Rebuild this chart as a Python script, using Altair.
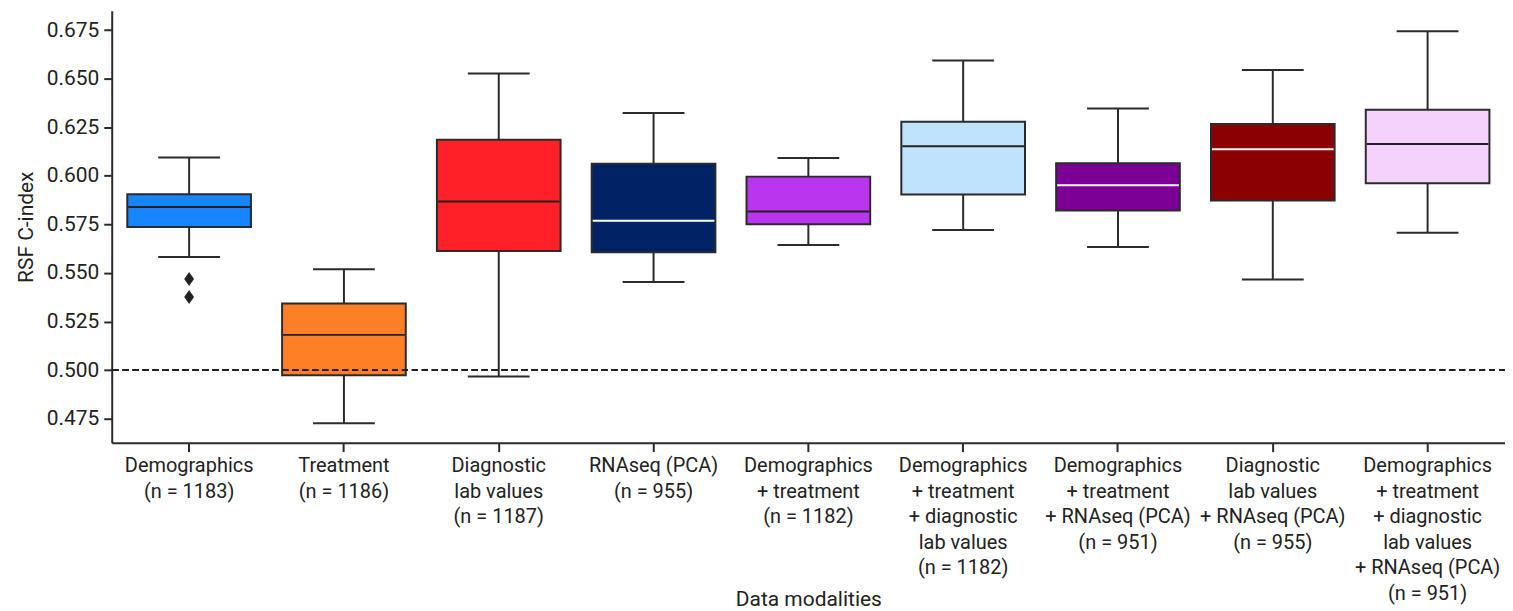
import altair as alt
import pandas as pd

categories = [
    "Demographics|(n = 1183)",
    "Treatment|(n = 1186)",
    "Diagnostic|lab values|(n = 1187)",
    "RNAseq (PCA)|(n = 955)",
    "Demographics|+ treatment|(n = 1182)",
    "Demographics|+ treatment|+ diagnostic|lab values|(n = 1182)",
    "Demographics|+ treatment|+ RNAseq (PCA)|(n = 951)",
    "Diagnostic|lab values|+ RNAseq (PCA)|(n = 955)",
    "Demographics|+ treatment|+ diagnostic|lab values|+ RNAseq (PCA)|(n = 951)",
]
whisker_low = [0.5582, 0.4726, 0.4967, 0.5453, 0.5644, 0.5721, 0.5633, 0.5466, 0.5707]
q1 = [0.5736, 0.4973, 0.5613, 0.5606, 0.5751, 0.5904, 0.5822, 0.5873, 0.5962]
median = [0.5839, 0.5181, 0.5868, 0.5769, 0.5817, 0.6152, 0.5952, 0.6137, 0.6164]
q3 = [0.5905, 0.5342, 0.6186, 0.6062, 0.5996, 0.6279, 0.6065, 0.6267, 0.6341]
whisker_high = [0.6094, 0.5519, 0.6527, 0.6324, 0.6092, 0.6594, 0.6347, 0.6545, 0.6745]
box_colors = ["#1685FF", "#FF7F27", "#FF2028", "#022266", "#B935EE",
              "#BFE3FD", "#7B0095", "#8B0000", "#F3D3FC"]
median_colors = ["#222222", "#222222", "#222222", "#FFFFFF", "#222222",
                 "#222222", "#FFFFFF", "#FFFFFF", "#222222"]
outlier_cat = [categories[0], categories[0]]
outlier_val = [0.5469, 0.5376]
y_ticks = [0.475, 0.500, 0.525, 0.550, 0.575, 0.600, 0.625, 0.650, 0.675]

df = pd.DataFrame({
    "cat": categories, "low": whisker_low, "q1": q1, "median": median,
    "q3": q3, "high": whisker_high, "medcolor": median_colors,
})
out_df = pd.DataFrame({"cat": outlier_cat, "val": outlier_val})

FONT = "Roboto"
DARK = "#2b2b2b"

x_enc = alt.X(
    "cat:N", sort=categories,
    scale=alt.Scale(domain=categories, paddingInner=0, paddingOuter=0),
    axis=alt.Axis(
        title="Data modalities", labelExpr="split(datum.label, '|')",
        labelAngle=0, labelFontSize=20, labelLineHeight=25.6, labelPadding=4,
        labelColor="#222", labelFont=FONT, tickSize=9, tickWidth=2, tickColor=DARK,
        domainColor=DARK, domainWidth=2, titleFontSize=21, titleFontWeight="normal",
        titleFont=FONT, titleColor="#222", titleY=157, titleBaseline="middle",
        labelBaseline="top",
    ),
)
y_scale = alt.Scale(domain=[0.4626, 0.685], nice=False, zero=False)
y_axis = alt.Axis(
    title="RSF C-index", values=y_ticks, format=".3f", labelFontSize=21,
    labelColor="#222", labelFont=FONT, tickSize=8, tickWidth=2, tickColor=DARK,
    domainColor=DARK, domainWidth=2, titleFontSize=21, titleFontWeight="normal",
    titleFont=FONT, titleColor="#222", titlePadding=10, grid=False, labelPadding=5,
)

base = alt.Chart(df)
whisk = base.mark_rule(color=DARK, strokeWidth=2).encode(
    x=x_enc, y=alt.Y("low:Q", scale=y_scale, axis=y_axis), y2="high:Q")
cap_low = base.mark_tick(size=62, thickness=2, color=DARK, opacity=1).encode(
    x=alt.X("cat:N", sort=categories), y="low:Q")
cap_high = base.mark_tick(size=62, thickness=2, color=DARK, opacity=1).encode(
    x=alt.X("cat:N", sort=categories), y="high:Q")
box = base.mark_bar(width=124, stroke=DARK, strokeWidth=2, opacity=1).encode(
    x=alt.X("cat:N", sort=categories), y="q1:Q", y2="q3:Q",
    color=alt.Color("cat:N", scale=alt.Scale(domain=categories, range=box_colors),
                    legend=None))
med = base.mark_tick(size=122, thickness=2, opacity=1).encode(
    x=alt.X("cat:N", sort=categories), y="median:Q",
    color=alt.Color("medcolor:N", scale=None))
outl = alt.Chart(out_df).mark_point(
    shape="M0,-1L0.7,0L0,1L-0.7,0Z", filled=True, size=196, color="#222", opacity=1
).encode(x=alt.X("cat:N", sort=categories), y="val:Q")
dash = alt.Chart(df).mark_rule(strokeDash=[6, 4], color="#222", strokeWidth=1.5).encode(
    y=alt.datum(0.5))

chart = alt.layer(whisk, cap_low, cap_high, box, med, outl, dash).properties(
    width=1397, height=433,
    padding={"left": 104, "top": 2, "right": 0, "bottom": 168},
    autosize="none",
).configure(font=FONT).configure_view(stroke=None)

chart.save("out.html", embed_options={"renderer": "svg", "actions": False})
